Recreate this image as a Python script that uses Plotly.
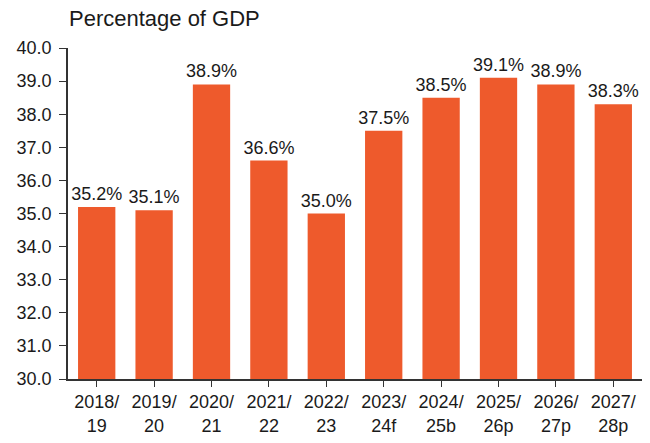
import plotly.graph_objects as go

years = ["2018/<br>19", "2019/<br>20", "2020/<br>21", "2021/<br>22", "2022/<br>23",
         "2023/<br>24f", "2024/<br>25b", "2025/<br>26p", "2026/<br>27p", "2027/<br>28p"]
pct_gdp = [35.2, 35.1, 38.9, 36.6, 35.0, 37.5, 38.5, 39.1, 38.9, 38.3]
y_ticks = [30, 31, 32, 33, 34, 35, 36, 37, 38, 39, 40]

FONT = "Liberation Sans, Arial, sans-serif"
BAR = "#EE5A2C"

fig = go.Figure(
    go.Bar(
        x=years,
        y=pct_gdp,
        marker=dict(color=BAR, line=dict(width=0)),
        text=[f"{v:.1f}%" for v in pct_gdp],
        textposition="outside",
        constraintext="none",
        textfont=dict(size=18, color="#1a1a1a", family=FONT),
        cliponaxis=False,
    )
)

fig.update_layout(
    width=650,
    height=443,
    paper_bgcolor="white",
    plot_bgcolor="white",
    margin=dict(l=68, r=8, t=48, b=64),
    bargap=0.35,
    showlegend=False,
    font=dict(family=FONT, size=18, color="#1a1a1a"),
    xaxis=dict(
        showline=True,
        linecolor="#333333",
        linewidth=1.5,
        ticks="outside",
        ticklen=6,
        tickcolor="#333333",
        tickfont=dict(size=18),
        ticklabelstandoff=0,
        showgrid=False,
    ),
    yaxis=dict(
        range=[30, 40],
        tickvals=y_ticks,
        tickformat=".1f",
        showline=True,
        linecolor="#333333",
        linewidth=1.5,
        ticks="outside",
        ticklen=7,
        tickcolor="#333333",
        tickfont=dict(size=18),
        ticklabelstandoff=4,
        showgrid=False,
        zeroline=False,
    ),
    annotations=[
        dict(
            text="Percentage of GDP",
            xref="paper", yref="paper",
            x=-0.002, y=1.0,
            xanchor="left", yanchor="bottom",
            yshift=15,
            showarrow=False,
            font=dict(size=22, family=FONT, color="#1a1a1a"),
        )
    ],
)

# drop the browser's default body margin so the figure sits at (0, 0)
fig.write_html(
    "out.html",
    config={"displayModeBar": False},
    post_script="document.body.style.margin='0';",
)
